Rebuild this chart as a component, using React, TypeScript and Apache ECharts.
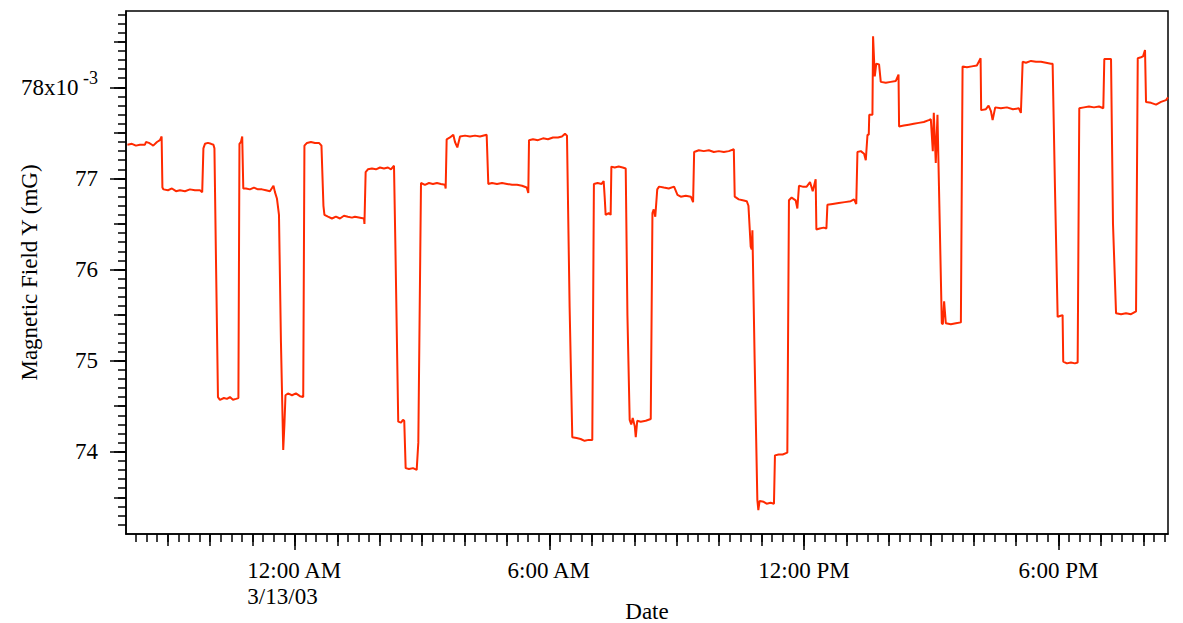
import React, { useEffect, useRef } from "react";
import * as echarts from "echarts";

// Magnetic field Y samples: [minutes from 12:00 AM 3/13/03, field (x10^-3 mG)]
const samples: [number, number][] = [
  [-237, 77.37], [-230.6, 77.38], [-225, 77.36], [-219.3, 77.37], [-212.2, 77.37], [-210.8, 77.4],
  [-206.5, 77.39], [-202.3, 77.37], [-200.5, 77.36], [-195.2, 77.4], [-191, 77.42], [-188.6, 77.46],
  [-187.5, 76.9], [-186, 76.88], [-179.6, 76.87], [-174, 76.89], [-168.3, 76.86], [-162.7, 76.87],
  [-155.6, 76.86], [-148.6, 76.88], [-141.5, 76.87], [-134.4, 76.87], [-131.2, 76.85],
  [-129.5, 77.33], [-127.3, 77.38], [-123.1, 77.39], [-118.8, 77.38], [-115.3, 77.37], [-113.9, 77.33],
  [-111.7, 76.1], [-108.9, 74.6], [-106.1, 74.57], [-100.5, 74.59], [-96.2, 74.58], [-92, 74.6],
  [-87.7, 74.57], [-83.5, 74.58], [-80, 74.59],
  [-78.5, 77.38], [-76.4, 77.4], [-74.6, 77.46], [-73.1, 76.89], [-69.3, 76.89], [-63.7, 76.88],
  [-58, 76.9], [-52.3, 76.88], [-46.7, 76.88], [-41, 76.87], [-35.4, 76.86], [-30.4, 76.92],
  [-28.3, 76.85], [-25.5, 76.78], [-22.6, 76.6], [-19.8, 75.2], [-16.6, 74.02], [-14.9, 74.3],
  [-13.4, 74.62], [-9.9, 74.64], [-4.2, 74.62], [1.4, 74.64], [7.1, 74.61], [11.7, 74.6],
  [13.4, 77.36], [17, 77.39], [22.6, 77.4], [28.3, 77.39], [34, 77.39], [37.5, 77.36],
  [40.3, 76.7], [41.7, 76.6], [46.7, 76.58], [52.3, 76.56], [58, 76.58], [63.7, 76.56], [69.3, 76.59],
  [74.9, 76.58], [80.6, 76.57], [84.9, 76.58], [97.6, 76.56], [98.3, 76.5],
  [100, 77.07], [103.2, 77.1], [108.9, 77.11], [114.6, 77.1], [120.3, 77.12], [125.9, 77.11],
  [131.6, 77.12], [135.8, 77.1], [140.1, 77.14],
  [142.2, 76.2], [146.1, 74.33], [150, 74.32], [152.8, 74.35], [154.6, 74.34],
  [156.6, 73.82], [161.3, 73.81], [167, 73.82], [172.2, 73.8],
  [174.5, 74.1], [178.3, 76.95], [183.9, 76.93], [189.6, 76.95], [195.2, 76.94], [200.9, 76.95],
  [206.5, 76.94], [212.2, 76.93], [213.2, 76.89],
  [214.6, 77.43], [219.3, 77.45], [224, 77.48], [226.4, 77.4], [229.7, 77.34], [233.5, 77.46],
  [240.6, 77.47], [247.6, 77.46], [254.7, 77.47], [261.7, 77.46], [271.2, 77.48],
  [273.5, 76.94], [278.7, 76.95], [285.8, 76.94], [292.9, 76.95], [300, 76.94], [307, 76.93],
  [314.1, 76.93], [321.2, 76.92], [327.8, 76.9], [330.1, 76.84],
  [331.1, 77.42], [336.7, 77.43], [343.8, 77.42], [350.9, 77.44], [357.9, 77.43], [365, 77.45],
  [372.1, 77.45], [377.7, 77.46], [382, 77.49], [384.8, 77.47],
  [388.5, 75.6], [392.3, 74.16], [398.4, 74.15], [404.1, 74.14], [409.7, 74.12], [415.4, 74.13], [420.6, 74.13],
  [422.9, 76.94], [428.1, 76.95], [433.8, 76.94], [436.7, 76.97], [438.1, 76.8], [439.5, 76.6],
  [443.8, 76.62], [446.6, 76.6], [447.6, 77.13], [452.3, 77.12], [458, 77.13], [463.6, 77.12], [467.9, 77.11],
  [470.3, 75.5], [473.5, 74.35], [475.7, 74.3], [477.8, 74.37], [480.7, 74.28], [482.1, 74.16],
  [484.2, 74.34], [489.1, 74.33], [496.2, 74.34], [503.3, 74.36],
  [505.7, 76.62], [507.5, 76.66], [509.7, 76.58], [512.5, 76.88], [515.1, 76.91], [521.7, 76.9],
  [528.8, 76.89], [536.3, 76.91], [541.1, 76.82], [545.8, 76.8], [552.9, 76.81], [560, 76.8], [563.2, 76.74],
  [564.7, 77.29], [571.3, 77.31], [578.4, 77.3], [585.5, 77.31], [592.5, 77.29], [599.6, 77.3],
  [606.7, 77.29], [613.7, 77.3], [620.8, 77.32],
  [622.1, 76.8], [627.8, 76.77], [633.4, 76.76], [639.1, 76.75], [641.5, 76.7], [644.7, 76.25],
  [646.1, 76.22], [647.1, 76.43], [650.3, 75.0], [654.1, 73.47], [655.5, 73.36], [657.3, 73.46],
  [663, 73.45], [667.2, 73.43], [672.9, 73.44], [677.6, 73.43],
  [679, 73.96], [684.2, 73.97], [689.9, 73.97], [696.5, 73.99],
  [698.8, 76.76], [702.6, 76.79], [708.3, 76.76], [710.7, 76.67], [713, 76.92], [718.2, 76.91],
  [723.9, 76.91], [728.6, 76.96], [732.4, 76.86], [736.6, 76.99],
  [737.6, 76.44], [742.3, 76.45], [748, 76.46], [751.8, 76.45],
  [753.2, 76.71], [760.7, 76.72], [769.2, 76.73], [777.7, 76.74], [786.2, 76.75], [790.9, 76.77], [794, 76.72],
  [795.7, 77.29], [800.4, 77.3], [805.1, 77.27], [807.5, 77.2], [809.9, 77.48], [811.7, 77.48],
  [812.4, 77.7], [816.9, 77.7], [817.8, 78.56], [820.2, 78.12], [822.3, 78.26], [826.3, 78.25],
  [828.7, 78.06], [835.8, 78.05], [842.9, 78.06], [850, 78.07], [853.8, 78.14],
  [854.6, 77.57], [861.3, 77.58], [868.3, 77.59], [875.4, 77.6], [882.5, 77.61], [889.6, 77.62],
  [896.6, 77.64], [899.5, 77.65], [902.3, 77.3], [903.7, 77.72], [906.5, 77.17], [908.9, 77.7],
  [912.2, 76.47], [915, 75.41], [916.5, 75.4], [918.3, 75.65], [920.7, 75.41], [927.8, 75.4],
  [934.9, 75.41], [942, 75.42],
  [944.4, 78.23], [950.5, 78.22], [957.5, 78.23], [964.6, 78.24], [969.9, 78.32],
  [970.7, 77.75], [977.4, 77.76], [981.2, 77.8], [984.5, 77.74], [986.9, 77.64], [990.6, 77.78],
  [998.6, 77.77], [1007.1, 77.78], [1015.6, 77.76], [1024.1, 77.77], [1026.9, 77.72],
  [1029.4, 78.28], [1034.1, 78.27], [1041.2, 78.29], [1048.2, 78.28], [1055.3, 78.28], [1062.4, 78.27],
  [1069.4, 78.26], [1071.8, 78.26],
  [1075.1, 76.9], [1078.9, 75.48], [1082.1, 75.49], [1085.9, 75.5],
  [1086.8, 74.99], [1092, 74.97], [1097.7, 74.98], [1103.3, 74.97], [1107.2, 74.98],
  [1109.5, 77.77], [1116.1, 77.78], [1123.2, 77.79], [1130.3, 77.78], [1137.4, 77.79], [1143.5, 77.77],
  [1144.9, 78.31], [1150.2, 78.31], [1154.4, 78.31],
  [1157.2, 76.5], [1161.5, 75.52], [1168.6, 75.51], [1175.6, 75.52], [1182.7, 75.51], [1189.8, 75.54],
  [1192.2, 78.32], [1196.8, 78.33], [1199.7, 78.34], [1202.5, 78.41],
  [1203.9, 77.84], [1211, 77.83], [1218.1, 77.81], [1225.1, 77.84], [1232.2, 77.86], [1235, 77.89],
];

// Bottom axis: labelled ticks every six hours
const timeTickMinutes = [0, 360, 720, 1080];
const timeTickLabels = ["12:00 AM", "6:00 AM", "12:00 PM", "6:00 PM"];
const dateLabel = "3/13/03";

// Left axis: labelled ticks
const fieldTickValues = [74, 75, 76, 77, 78];
const fieldTickLabels = ["74", "75", "76", "77", "78x10"];
const fieldExponent = "-3";

const X_MIN = -239;
const X_MAX = 1235;
const Y_MIN = 73.097;
const Y_MAX = 78.838;

const FONT = '"Liberation Serif", "Times New Roman", Times, serif';
const INK = "#000";
const TRACE = "#ff2a00";

function range(start: number, stop: number, step: number): number[] {
  const out: number[] = [];
  const n = Math.round((stop - start) / step);
  for (let i = 0; i <= n; i++) out.push(Math.round((start + i * step) * 1000) / 1000);
  return out;
}

const quarterHourTicks = range(-225, 1230, 15);
const hourTicks = range(-180, 1200, 60);
const tenthTicks = range(73.2, 78.8, 0.1);
const halfTicks = range(73.5, 78.5, 0.5);

function xAxisLayer(ticks: number[], length: number, main: boolean): any {
  return {
    type: "value",
    position: "bottom",
    min: X_MIN,
    max: X_MAX,
    splitLine: { show: false },
    axisLine: { show: main, onZero: false, lineStyle: { color: INK, width: 1.5 } },
    axisTick: {
      show: true,
      length,
      customValues: ticks,
      lineStyle: { color: INK, width: 1.5 },
    },
    axisLabel: main
      ? {
          show: true,
          customValues: timeTickMinutes,
          margin: 23,
          color: INK,
          fontFamily: FONT,
          fontSize: 23,
          lineHeight: 26,
          formatter: (v: number) => {
            const i = timeTickMinutes.indexOf(Math.round(v));
            if (i < 0) return "";
            if (timeTickMinutes[i] === 0) {
              return `{t|${timeTickLabels[i]}}\n{d|${dateLabel}}`;
            }
            return `{t|${timeTickLabels[i]}}`;
          },
          rich: {
            t: { fontFamily: FONT, fontSize: 23, lineHeight: 26, color: INK, align: "left" },
            d: { fontFamily: FONT, fontSize: 23, lineHeight: 26, color: INK, align: "left" },
          },
        }
      : { show: false },
    name: main ? "Date" : "",
    nameLocation: "middle",
    nameGap: 64,
    nameMoveOverlap: false,
    nameTextStyle: { fontFamily: FONT, fontSize: 23, lineHeight: 26, color: INK },
  };
}

function yAxisLayer(ticks: number[], length: number, main: boolean): any {
  return {
    type: "value",
    position: "left",
    min: Y_MIN,
    max: Y_MAX,
    splitLine: { show: false },
    axisLine: { show: main, onZero: false, lineStyle: { color: INK, width: 1.5 } },
    axisTick: {
      show: true,
      length,
      customValues: ticks,
      lineStyle: { color: INK, width: 1.5 },
    },
    axisLabel: main
      ? {
          show: true,
          customValues: fieldTickValues,
          margin: 28,
          color: INK,
          fontFamily: FONT,
          fontSize: 23,
          formatter: (v: number) => {
            const i = fieldTickValues.indexOf(Math.round(v));
            if (i < 0) return "";
            if (i === fieldTickValues.length - 1) {
              return `{n|${fieldTickLabels[i]}}{e| ${fieldExponent}}`;
            }
            return `{n|${fieldTickLabels[i]}}`;
          },
          rich: {
            n: { fontFamily: FONT, fontSize: 23, lineHeight: 36, color: INK },
            e: { fontFamily: FONT, fontSize: 18, lineHeight: 18, color: INK, verticalAlign: "top" },
          },
        }
      : { show: false },
    name: main ? "Magnetic Field Y (mG)" : "",
    nameLocation: "middle",
    nameRotate: 90,
    nameGap: 84,
    nameMoveOverlap: false,
    nameTextStyle: { fontFamily: FONT, fontSize: 23, lineHeight: 26, color: INK },
  };
}

export default function App() {
  const ref = useRef<HTMLDivElement>(null);

  useEffect(() => {
    if (!ref.current) return;
    const chart = echarts.init(ref.current, undefined, { renderer: "svg" });
    chart.setOption({
      animation: false,
      backgroundColor: "#fff",
      grid: {
        left: 126,
        right: 15,
        top: 11,
        bottom: 89,
        containLabel: false,
        outerBoundsMode: "none",
        show: true,
        borderColor: INK,
        borderWidth: 1.5,
        backgroundColor: "transparent",
      },
      xAxis: [
        xAxisLayer(timeTickMinutes, 16, true),
        xAxisLayer(hourTicks, 12, false),
        xAxisLayer(quarterHourTicks, 8, false),
      ],
      yAxis: [
        yAxisLayer(fieldTickValues, 16, true),
        yAxisLayer(halfTicks, 12, false),
        yAxisLayer(tenthTicks, 8, false),
      ],
      series: [
        {
          type: "line",
          xAxisIndex: 0,
          yAxisIndex: 0,
          data: samples,
          symbol: "none",
          showSymbol: false,
          clip: true,
          lineStyle: { color: TRACE, width: 2 },
        },
      ],
    });
    return () => chart.dispose();
  }, []);

  return (
    <div
      ref={ref}
      style={{ position: "fixed", left: 0, top: 0, width: 1183, height: 623, background: "#fff" }}
    />
  );
}
